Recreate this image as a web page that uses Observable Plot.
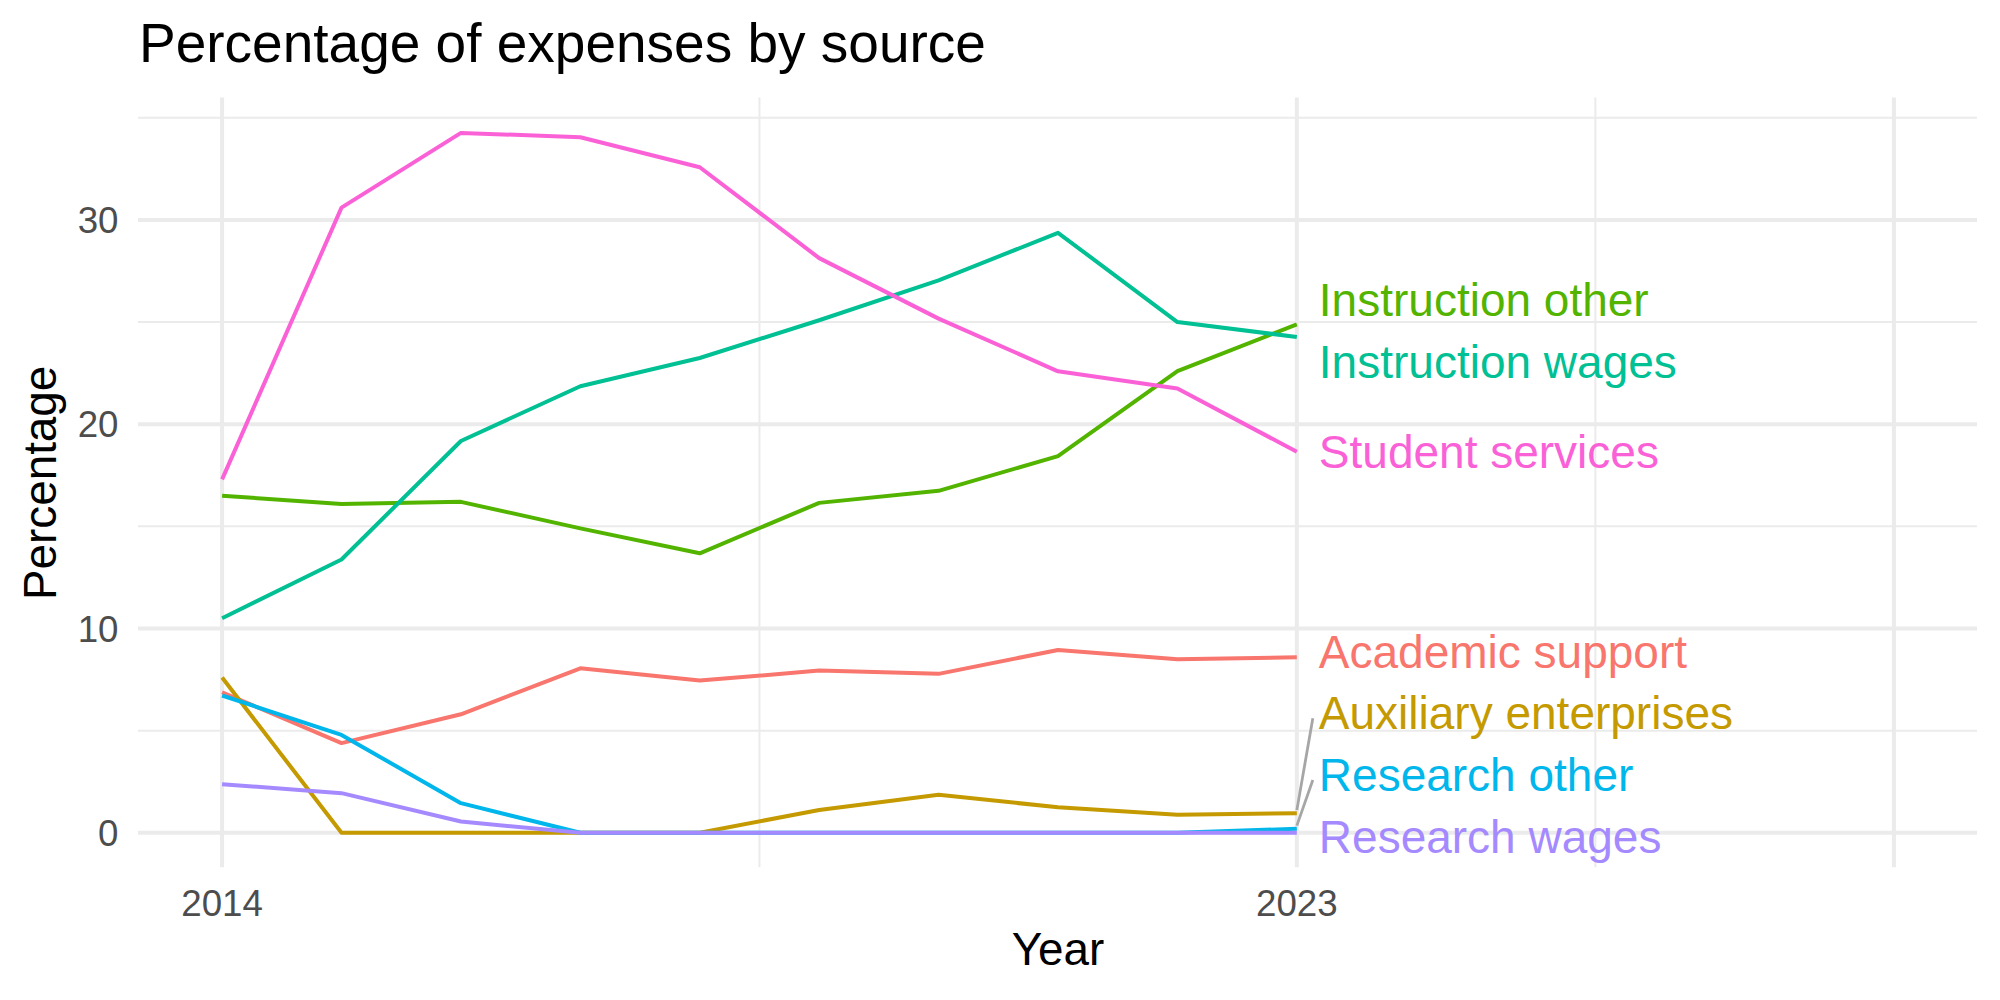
<!DOCTYPE html>
<html>
<head>
<meta charset="utf-8">
<script src="https://cdn.jsdelivr.net/npm/d3@7"></script>
<script src="https://cdn.jsdelivr.net/npm/@observablehq/plot@0.6"></script>
<style>
  body { margin: 0; background: #fff; }
  #wrap { width: 2000px; height: 1000px; position: relative; overflow: hidden; font-family: "Liberation Sans", Arial, sans-serif; background: #fff; }
  #title { height: 80px; position: relative; }
  #title span { position: absolute; left: 139px; top: 16px; font-size: 55px; line-height: 1; color: #000; white-space: nowrap; }
  #chart svg { display: block; }
</style>
</head>
<body>
<div id="wrap">
  <div id="title"><span>Percentage of expenses by source</span></div>
  <div id="chart"></div>
</div>
<script>
// ---------- data ----------
const years = [2014, 2015, 2016, 2017, 2018, 2019, 2020, 2021, 2022, 2023];
const seriesNames = ["Academic support", "Auxiliary enterprises", "Instruction other", "Instruction wages", "Research other", "Research wages", "Student services"];
const academicSupport      = [6.88, 4.39, 5.80, 8.05, 7.45, 7.94, 7.78, 8.95, 8.49, 8.59];
const auxiliaryEnterprises = [7.60, 0.00, 0.00, 0.00, 0.00, 1.12, 1.86, 1.25, 0.88, 0.96];
const instructionOther     = [16.50, 16.10, 16.20, 14.90, 13.68, 16.15, 16.74, 18.44, 22.60, 24.89];
const instructionWages     = [10.50, 13.38, 19.18, 21.86, 23.24, 25.09, 27.04, 29.37, 25.00, 24.27];
const researchOther        = [6.72, 4.79, 1.45, 0.00, 0.00, 0.00, 0.00, 0.00, 0.00, 0.20];
const researchWages        = [2.38, 1.94, 0.55, 0.00, 0.00, 0.00, 0.00, 0.00, 0.00, 0.00];
const studentServices      = [17.30, 30.60, 34.26, 34.05, 32.58, 28.13, 25.17, 22.59, 21.75, 18.65];
const seriesColors = ["#F8766D", "#C49A00", "#53B400", "#00C094", "#00B6EB", "#A58AFF", "#FB61D7"];

// axis breaks / labels
const xLimits = [2014, 2028];
const xBreaks = [2014, 2023, 2028];
const xLabels = ["2014", "2023", ""];
const xMinor = [2018.5, 2025.5];
const yBreaks = [0, 10, 20, 30];
const yLabels = ["0", "10", "20", "30"];
const yMinor = [5, 15, 25, 35];

// ---------- build table ----------
const seriesValues = [academicSupport, auxiliaryEnterprises, instructionOther, instructionWages, researchOther, researchWages, studentServices];
const rows = [];
seriesNames.forEach((name, i) => {
  years.forEach((yr, j) => rows.push({series: name, year: yr, value: seriesValues[i][j]}));
});

// ggplot-like 5% expansion
const expand = (lo, hi) => { const r = hi - lo; return [lo - 0.05 * r, hi + 0.05 * r]; };
const xDomain = expand(xLimits[0], xLimits[1]);
const yDomain = expand(Math.min(0, d3.min(rows, d => d.value)), d3.max(rows, d => d.value));

// ---------- simple 1D label repel (like ggrepel) ----------
const lastYear = years[years.length - 1];
const gap = 3.02;                 // min vertical distance between label centres (data units)
const floorY = yDomain[0] + 1.55; // labels kept inside the panel
const ends = seriesNames.map((name, i) => ({series: name, value: seriesValues[i][years.length - 1]}))
  .sort((a, b) => a.value - b.value);
let clusters = [];
for (const e of ends) {
  clusters.push({items: [e]});
  const fit = c => {
    const s = d3.mean(c.items, (it, k) => it.value - k * gap);
    c.start = Math.max(s, floorY);
  };
  fit(clusters[clusters.length - 1]);
  while (clusters.length > 1) {
    const a = clusters[clusters.length - 2], b = clusters[clusters.length - 1];
    if (b.start < a.start + a.items.length * gap) {
      a.items = a.items.concat(b.items);
      clusters.pop();
      fit(a);
    } else break;
  }
}
const labels = [];
clusters.forEach(c => c.items.forEach((it, k) => labels.push({series: it.series, value: it.value, labelY: c.start + k * gap})));
const segNudgeX = 0.134;
const segments = labels.filter(d => Math.abs(d.labelY - d.value) > 2)
  .map(d => ({x1: lastYear, y1: d.value + 0.15, x2: lastYear + segNudgeX, y2: d.labelY - 0.27}));

// ---------- plot ----------
const grid = "#EBEBEB";
const chart = Plot.plot({
  width: 2000,
  height: 920,
  marginTop: 17.4,
  marginBottom: 132.7,
  marginLeft: 138,
  marginRight: 23,
  x: {domain: xDomain, axis: null},
  y: {domain: yDomain, axis: null},
  color: {domain: seriesNames, range: seriesColors},
  style: {fontFamily: '"Liberation Sans", Arial, sans-serif', background: "#fff", overflow: "visible"},
  marks: [
    Plot.ruleX(xMinor, {stroke: grid, strokeWidth: 2}),
    Plot.ruleY(yMinor, {stroke: grid, strokeWidth: 2}),
    Plot.ruleX(xBreaks, {stroke: grid, strokeWidth: 4}),
    Plot.ruleY(yBreaks, {stroke: grid, strokeWidth: 4}),
    Plot.line(rows, {x: "year", y: "value", z: "series", stroke: "series", strokeWidth: 4, strokeLinecap: "butt", strokeLinejoin: "round"}),
    Plot.link(segments, {x1: "x1", y1: "y1", x2: "x2", y2: "y2", stroke: "#A6A6A6", strokeWidth: 2.8}),
    Plot.text(labels, {x: () => lastYear, y: "labelY", text: "series", fill: "series", fontSize: 46, textAnchor: "start", lineAnchor: "middle", dx: 22, dy: 1.8}),
    Plot.text(xBreaks.map((b, i) => ({b, l: xLabels[i]})).filter(d => d.l), {x: "b", text: "l", frameAnchor: "bottom", lineAnchor: "top", dy: 22.3, fontSize: 36.7, fill: "#4D4D4D"}),
    Plot.text(yBreaks.map((b, i) => ({b, l: yLabels[i]})), {y: "b", text: "l", frameAnchor: "left", textAnchor: "end", lineAnchor: "middle", dx: -20, dy: 1.5, fontSize: 36.7, fill: "#4D4D4D"}),
    Plot.text(["Year"], {frameAnchor: "bottom", textAnchor: "middle", lineAnchor: "top", dy: 65, fontSize: 45.8, fill: "#000"}),
    Plot.text(["Percentage"], {frameAnchor: "left", textAnchor: "middle", rotate: -90, lineAnchor: "middle", dx: -97, fontSize: 45.8, fill: "#000"})
  ]
});
document.getElementById("chart").appendChild(chart);
</script>
</body>
</html>
